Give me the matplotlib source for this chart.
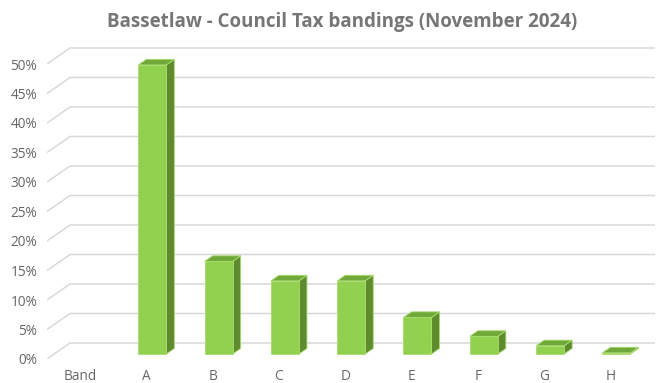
import matplotlib
matplotlib.use("Agg")
import matplotlib.pyplot as plt
from matplotlib.patches import Polygon
import numpy as np

categories = ["Band", "A", "B", "C", "D", "E", "F", "G", "H"]
shares = [None, 49.0, 15.7, 12.4, 12.4, 6.2, 3.0, 1.4, 0.2]   # % of dwellings
tick_values = list(range(0, 55, 5))
tick_labels = [f"{v}%" for v in tick_values]
title = "Bassetlaw - Council Tax bandings (November 2024)"

W, H = 660, 383
fig = plt.figure(figsize=(W / 100, H / 100), dpi=100)

# plot area in pixels
px_left, px_right = 47, 655
px_zero, px_top = 359, 40
px_per_pct = 5.9
px_per_cat = 66.3
px_first_label = 80

ax = fig.add_axes([px_left / W, (H - px_zero) / H,
                   (px_right - px_left) / W, (px_zero - px_top) / H])
x_lo = (px_left - px_first_label) / px_per_cat
x_hi = (px_right - px_first_label) / px_per_cat
ax.set_xlim(x_lo, x_hi)
ax.set_ylim(0, (px_zero - px_top) / px_per_pct)
ax.axis("off")

# oblique depth projection (full depth of the floor)
DX = 23 / px_per_cat
DY = 16 / px_per_pct

grid_col = "#D9D9D9"
for v in tick_values:
    ax.plot([x_lo, x_lo + DX, x_hi], [v, v + DY, v + DY],
            color=grid_col, lw=1.1, solid_capstyle="butt", zorder=1)

# bars: front face, top and right side
front_col = "#92D050"
top_col = "#70A83A"
side_col = "#5F8B2F"
edge_col = "#A8DC6E"
d0, d1 = 0.31, 0.66
bar_w = 28 / px_per_cat
bar_shift = 6 / px_per_cat
xs = np.arange(len(categories))
for x, v in zip(xs, shares):
    if v is None:
        continue
    xl = x + bar_shift - bar_w / 2
    xr = xl + bar_w
    b = d0 * DY
    ddx = (d1 - d0) * DX
    ddy = (d1 - d0) * DY
    side = Polygon([(xr, b), (xr + ddx, b + ddy), (xr + ddx, b + v + ddy), (xr, b + v)],
                   closed=True, facecolor=side_col, edgecolor=edge_col, lw=0.6, zorder=3)
    top = Polygon([(xl, b + v), (xr, b + v), (xr + ddx, b + v + ddy), (xl + ddx, b + v + ddy)],
                  closed=True, facecolor=top_col, edgecolor=edge_col, lw=0.6, zorder=3)
    ax.add_patch(side)
    ax.add_patch(top)
    ax.bar(x + bar_shift, v, width=bar_w, bottom=b,
           color=front_col, edgecolor=edge_col, lw=0.6, zorder=4)

font = ["Open Sans", "DejaVu Sans"]
text_col = "#666666"
for v, lab in zip(tick_values, tick_labels):
    fig.text(37 / W, (H - (px_zero + 2 - v * px_per_pct)) / H, lab, ha="right", va="center",
             fontsize=9.8, color=text_col, family=font)

for x, lab in zip(xs, categories):
    px = px_first_label + x * px_per_cat
    fig.text(px / W, (H - 377) / H, lab, ha="center", va="center",
             fontsize=9.8, color=text_col, family=font)

fig.text(342 / W, (H - 22) / H, title, ha="center", va="center",
         fontsize=13.5, fontweight="bold", color="#767676", family=font)

fig.savefig("out.png", dpi=100)
